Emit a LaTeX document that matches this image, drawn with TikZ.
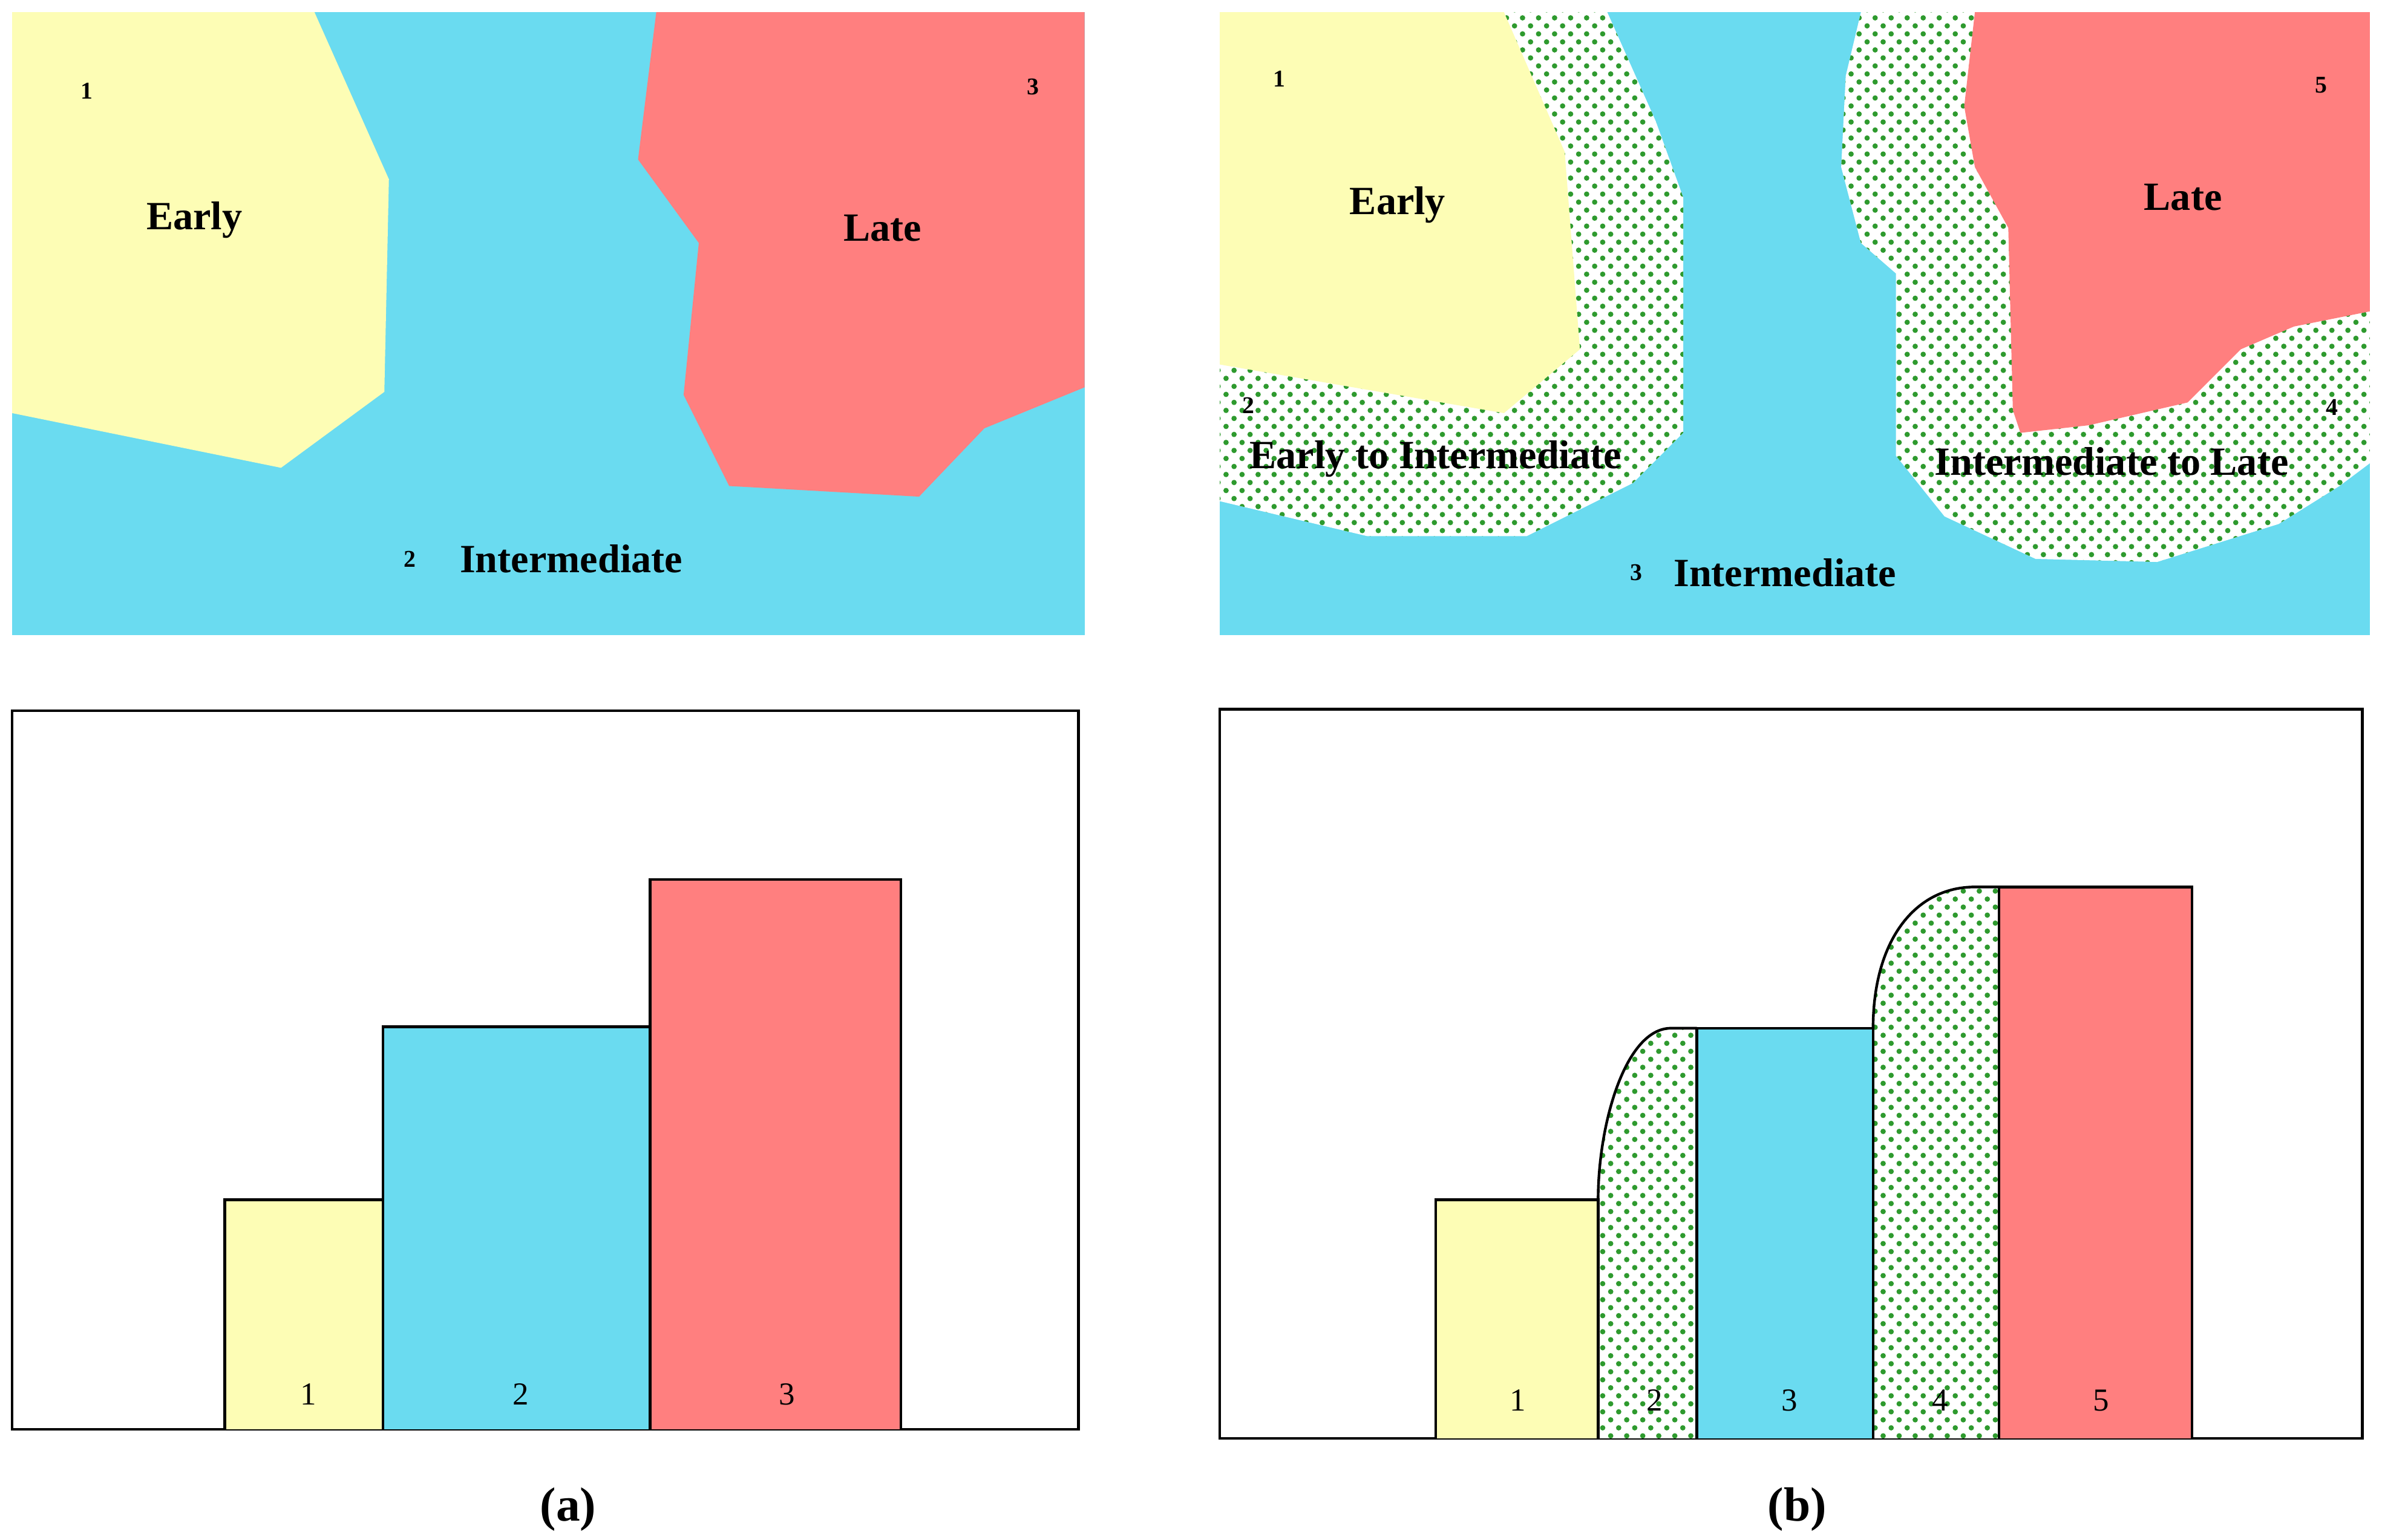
\documentclass[tikz,border=0pt]{standalone}
\usepackage{fontspec}
\setmainfont{Liberation Serif}
\usetikzlibrary{patterns}
\definecolor{cy}{HTML}{FDFDB5}
\definecolor{cb}{HTML}{6ADBF0}
\definecolor{cr}{HTML}{FF7F7F}
\definecolor{cg}{HTML}{2E9A2E}
\tikzset{
 lab/.style={font=\fontsize{7.5}{8}\selectfont\bfseries},
 num/.style={font=\fontsize{4.5}{5}\selectfont\bfseries},
 bnum/.style={font=\fontsize{6}{7}\selectfont},
 captxt/.style={font=\fontsize{9}{10}\selectfont\bfseries},
 pat/.style={fill=white,postaction={pattern=crosshatch dots,pattern color=cg}},
 bar/.style={draw=black,line width=0.5pt}
}
\begin{document}
\begin{tikzpicture}[x=0.01cm,y=-0.01cm]
\useasboundingbox[fill=white] (0,0) rectangle (1568,1014);
% ---- (a) map
\fill[cb] (8,8) rectangle (714,418);
\fill[cy] (8,8)--(207,8)--(256,118)--(253,258)--(185,308)--(8,272)--cycle;
\fill[cr] (432,8)--(714,8)--(714,255)--(648,282)--(605,327)--(480,320)--(450,260)--(460,160)--(420,105)--cycle;
\node[num] (a1) at (57,60) {1};
\node[lab] (aE) at (128,145) {Early};
\node[num] (a3) at (680,57) {3};
\node[lab] (aL) at (581,150) {Late};
\node[num] (a2) at (270,368) {2};
\node[lab] (aI) at (376,368) {Intermediate};
% ---- (a) bars
\draw[line width=0.5pt] (8,468) rectangle (710,941);
\fill[cy] (148,790) rectangle (252,941);
\fill[cb] (252,676) rectangle (428,941);
\fill[cr] (428,579) rectangle (593,941);
\draw[bar] (148,941)--(148,790)--(252,790)--(252,941);
\draw[bar] (252,790)--(252,676)--(428,676)--(428,941);
\draw[bar] (428,676)--(428,579)--(593,579)--(593,941);
\node[bnum] (ab1) at (203,918) {1};
\node[bnum] (ab2) at (343,918) {2};
\node[bnum] (ab3) at (518,918) {3};
% ---- (b) map
\fill[cb] (803,8) rectangle (1560,418);
\path[pat] (803,8)--(1058,8)--(1090,80)--(1108,130)--(1108,285)--(1075,318)--(1005,353)--(900,353)--(803,330)--cycle;
\fill[cy] (803,8)--(990,8)--(1030,100)--(1040,230)--(990,272)--(803,240)--cycle;
\path[pat] (1225,8)--(1560,8)--(1560,305)--(1540,320)--(1500,345)--(1420,370)--(1340,368)--(1280,340)--(1248,300)--(1248,180)--(1225,160)--(1212,110)--(1215,50)--cycle;
\fill[cr] (1300,8)--(1560,8)--(1560,205)--(1510,215)--(1475,230)--(1440,265)--(1375,280)--(1330,285)--(1325,270)--(1322,150)--(1300,110)--(1293,70)--cycle;
\node[num] (b1) at (842,52) {1};
\node[lab] (bE) at (920,135) {Early};
\node[num] (b5) at (1528,56) {5};
\node[lab] (bL) at (1437,130) {Late};
\node[num] (b2) at (822,267) {2};
\node[lab] (bEI) at (945,302) {Early to Intermediate};
\node[num] (b4) at (1535,268) {4};
\node[lab] (bIL) at (1390,304) {Intermediate to Late};
\node[num] (b3) at (1077,377) {3};
\node[lab] (bI) at (1175,377) {Intermediate};
% ---- (b) bars
\draw[line width=0.5pt] (803,467) rectangle (1555,947);
\fill[cy] (945,790) rectangle (1052,947);
\path[pat] (1052,947)--(1052,790) .. controls (1052,740) and (1070,677) .. (1100,677)--(1117,677)--(1117,947)--cycle;
\fill[cb] (1117,677) rectangle (1233,947);
\path[pat] (1233,947)--(1233,677) .. controls (1233,620) and (1260,584) .. (1300,584)--(1316,584)--(1316,947)--cycle;
\fill[cr] (1316,584) rectangle (1443,947);
\draw[bar] (945,947)--(945,790)--(1052,790)--(1052,947);
\draw[bar] (1052,790) .. controls (1052,740) and (1070,677) .. (1100,677)--(1117,677);
\draw[bar] (1117,947)--(1117,677)--(1233,677)--(1233,947);
\draw[bar] (1233,677) .. controls (1233,620) and (1260,584) .. (1300,584)--(1316,584);
\draw[bar] (1316,947)--(1316,584)--(1443,584)--(1443,947);
\node[bnum] (bb1) at (999,922) {1};
\node[bnum] (bb2) at (1089,922) {2};
\node[bnum] (bb3) at (1178,922) {3};
\node[bnum] (bb4) at (1277,922) {4};
\node[bnum] (bb5) at (1383,922) {5};
% captions
\node[captxt] (ca) at (374,994) {(a)};
\node[captxt] (cbb) at (1183,994) {(b)};
\end{tikzpicture}
\end{document}
